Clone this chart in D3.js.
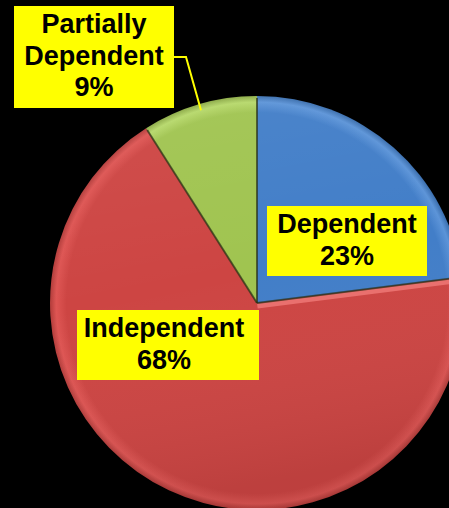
<!DOCTYPE html>
<html>
<head>
  <script src="https://cdnjs.cloudflare.com/ajax/libs/d3/7.8.5/d3.min.js"></script>
  <style>body { margin: 0; background: #000; overflow: hidden }</style>
</head>
<body>
  <div id="chart"></div>
  <script>
    // data
    const categories = ['Dependent', 'Independent', 'Partially Dependent'];
    const shares = [23, 68, 9];
    const labelLines = [['Dependent', '23%'], ['Independent', '68%'], ['Partially', 'Dependent', '9%']];

    const colors = ['#427ec8', '#cd4543', '#a0c450'];
    const lightColors = ['#5c94d8', '#de5553', '#b6d86a'];

    const width = 449, height = 508;
    const cx = 257, cy = 303, R = 207;

    // label boxes: [x, y, w, h, first baseline]
    const boxes = [
      [267, 206, 160, 70, 27],
      [77, 310, 182, 70, 27],
      [14, 6, 160, 102, 27]
    ];
    const LINE_H = 31.5;

    const svg = d3.select('#chart').append('svg')
      .attr('width', width)
      .attr('height', height)
      .style('background', '#000');

    const defs = svg.append('defs');

    // rim bevel, in the pie group's own coordinates
    colors.forEach((c, i) => {
      const gr = defs.append('radialGradient')
        .attr('id', 'rim' + i)
        .attr('gradientUnits', 'userSpaceOnUse')
        .attr('cx', 0).attr('cy', 0).attr('r', R);
      gr.append('stop').attr('offset', 0).attr('stop-color', c);
      gr.append('stop').attr('offset', 0.92).attr('stop-color', c);
      gr.append('stop').attr('offset', 0.97).attr('stop-color', lightColors[i]);
      gr.append('stop').attr('offset', 1).attr('stop-color', d3.color(c).darker(0.4));
    });

    const shade = defs.append('linearGradient')
      .attr('id', 'shade')
      .attr('x1', 0).attr('y1', 0).attr('x2', 0.2).attr('y2', 1);
    shade.append('stop').attr('offset', 0).attr('stop-color', '#fff').attr('stop-opacity', 0.06);
    shade.append('stop').attr('offset', 0.5).attr('stop-color', '#fff').attr('stop-opacity', 0);
    shade.append('stop').attr('offset', 1).attr('stop-color', '#000').attr('stop-opacity', 0.08);

    const pie = d3.pie().sort(null).value(d => d);
    const arcs = pie(shares);
    const arc = d3.arc().innerRadius(0).outerRadius(R);

    const g = svg.append('g').attr('transform', `translate(${cx},${cy})`);

    g.selectAll('path.slice')
      .data(arcs)
      .join('path')
      .attr('class', 'slice')
      .attr('d', arc)
      .attr('fill', (d, i) => `url(#rim${i})`)
      .attr('stroke', 'none');

    g.append('circle')
      .attr('r', R)
      .attr('fill', 'url(#shade)');

    // highlight on red side of the blue/red edge
    const a0 = arcs[1].startAngle;
    g.append('line')
      .attr('x1', 3 * Math.cos(a0)).attr('y1', 3 * Math.sin(a0))
      .attr('x2', R * 0.99 * Math.sin(a0) + 3 * Math.cos(a0))
      .attr('y2', -R * 0.99 * Math.cos(a0) + 3 * Math.sin(a0))
      .attr('stroke', '#f07a78')
      .attr('stroke-opacity', 0.8)
      .attr('stroke-width', 5);

    // slice edges (dark bevel shadow)
    g.selectAll('line.edge')
      .data(arcs)
      .join('line')
      .attr('class', 'edge')
      .attr('x1', 0).attr('y1', 0)
      .attr('x2', d => R * 0.99 * Math.sin(d.startAngle))
      .attr('y2', d => -R * 0.99 * Math.cos(d.startAngle))
      .attr('stroke', '#2a3015')
      .attr('stroke-opacity', 0.7)
      .attr('stroke-width', 2);

    // labels
    const lab = svg.selectAll('g.label')
      .data(categories)
      .join('g')
      .attr('class', 'label');

    lab.append('rect')
      .attr('x', (d, i) => boxes[i][0])
      .attr('y', (d, i) => boxes[i][1])
      .attr('width', (d, i) => boxes[i][2])
      .attr('height', (d, i) => boxes[i][3])
      .attr('fill', '#ffff00');

    lab.each(function (d, i) {
      const b = boxes[i];
      const t = d3.select(this).append('text')
        .attr('text-anchor', 'middle')
        .attr('font-family', '"Liberation Sans", Arial, sans-serif')
        .attr('font-weight', 'bold')
        .attr('font-size', 27)
        .attr('fill', '#000');
      labelLines[i].forEach((s, k) => {
        t.append('tspan')
          .attr('x', b[0] + b[2] / 2 - (i === 1 ? 4 : 0))
          .attr('y', b[1] + b[4] + k * LINE_H)
          .text(s);
      });
    });

    // leader line for the small slice
    const pd = arcs[2];
    const mid = (pd.startAngle + pd.endAngle) / 2;
    const tip = [cx + R * 0.97 * Math.sin(mid), cy - R * 0.97 * Math.cos(mid)];
    const pb = boxes[2];
    svg.append('polyline')
      .attr('points', [[pb[0] + pb[2], pb[1] + 51], [pb[0] + pb[2] + 12, pb[1] + 51], tip].join(' '))
      .attr('fill', 'none')
      .attr('stroke', '#ffff00')
      .attr('stroke-width', 2);
  </script>
</body>
</html>
